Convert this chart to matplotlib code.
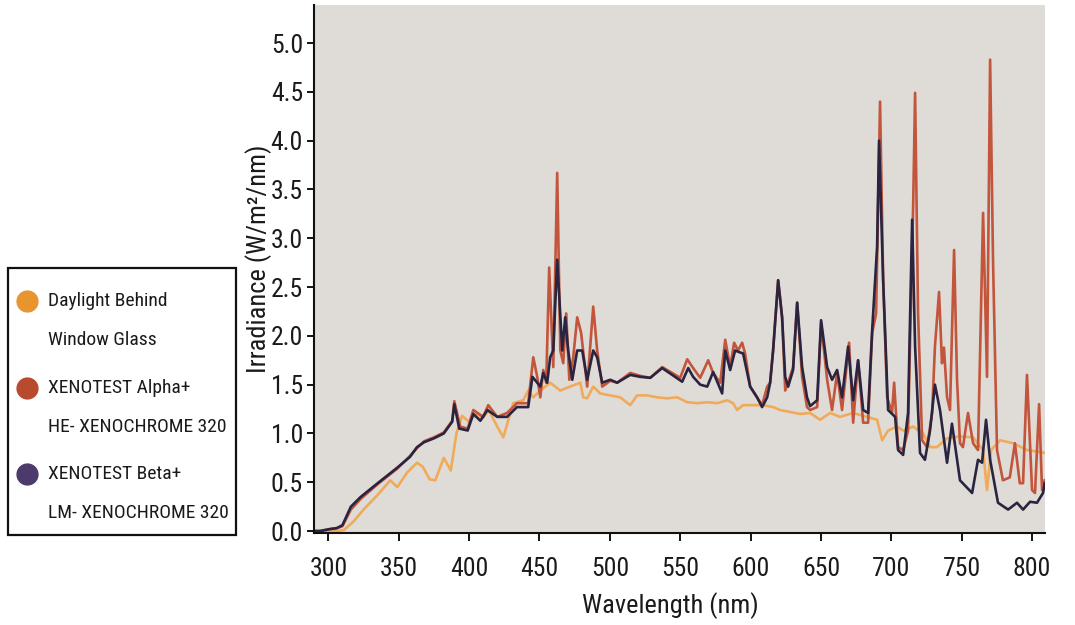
import matplotlib
matplotlib.use('Agg')
import matplotlib.pyplot as plt
import matplotlib.font_manager as fm
from matplotlib.patches import Rectangle
from matplotlib.lines import Line2D

# pick a narrow font if one is installed
avail = {f.name for f in fm.fontManager.ttflist}
stretch = 'normal'
font = 'DejaVu Sans'
for cand in ['Roboto Condensed', 'Liberation Sans Narrow', 'Open Sans Condensed']:
    if cand in avail:
        font = cand
        break
else:
    stretch = 'condensed'
plt.rcParams['font.family'] = [font, 'DejaVu Sans']
plt.rcParams['font.stretch'] = stretch

# wavelength (nm), irradiance (W/m2/nm)
daylight = [(290, 0.0), (300, 0.0), (306, 0.0), (311, 0.01), (318, 0.1), (325, 0.22), (335, 0.37),
            (344, 0.52), (349, 0.45), (356, 0.6), (363, 0.7), (367, 0.66), (372, 0.53), (376, 0.52),
            (382, 0.75), (387, 0.62), (391, 1.0), (395, 1.18), (400, 1.12), (405, 1.2), (410, 1.16),
            (414, 1.24), (420, 1.07), (424.3, 0.96), (431.4, 1.31), (438.5, 1.34), (442, 1.44),
            (445.6, 1.37), (450.6, 1.44), (457.6, 1.52), (464.8, 1.44), (471.8, 1.48), (479, 1.52),
            (481.1, 1.37), (483.9, 1.36), (488.2, 1.48), (493.2, 1.41), (500.3, 1.39), (507.4, 1.37),
            (514.5, 1.29), (519.4, 1.39), (526.5, 1.39), (533.6, 1.37), (540.7, 1.36), (547.9, 1.37),
            (555, 1.32), (562.1, 1.31), (569.2, 1.32), (576.3, 1.31), (583.4, 1.34), (587.6, 1.31),
            (590.4, 1.24), (594.7, 1.29), (601.8, 1.29), (608.9, 1.29), (616, 1.27), (620.9, 1.24),
            (628.1, 1.22), (635.2, 1.2), (642.3, 1.21), (649.4, 1.14), (656.5, 1.21), (663.6, 1.17),
            (672.9, 1.21), (682.8, 1.17), (689.9, 1.14), (693.5, 0.93), (697.7, 1.03), (704.1, 1.07),
            (708.4, 1.03), (715.5, 1.07), (722.6, 1.0), (727.5, 0.86), (732.5, 0.86), (739.6, 0.95),
            (748.8, 0.97), (758.1, 0.96), (765.2, 0.83), (768, 0.42), (770.9, 0.83), (777.3, 0.93),
            (786.5, 0.9), (796.4, 0.83), (805.7, 0.81), (809, 0.8)]

alpha = [(290, 0.0), (294, 0.0), (301, 0.02), (306, 0.03), (310, 0.05), (316, 0.22), (323, 0.33),
         (335, 0.48), (349, 0.64), (358, 0.77), (363, 0.85), (368, 0.92), (375, 0.96), (382, 1.01),
         (388, 1.13), (389.5, 1.33), (393.7, 1.07), (399, 1.05), (403, 1.24), (410, 1.17), (413.6, 1.29),
         (420, 1.17), (427, 1.21), (434, 1.31), (442, 1.31), (445.6, 1.78), (448.4, 1.58), (450.6, 1.37),
         (452.7, 1.65), (454.8, 1.52), (456.9, 2.7), (459.8, 1.68), (462.6, 3.67), (464.8, 1.85),
         (466.9, 1.72), (469, 2.23), (471.2, 1.55), (474, 1.78), (476.8, 2.19), (479.6, 2.03),
         (483.9, 1.48), (488.2, 2.3), (491, 1.85), (494.6, 1.48), (500.3, 1.54), (505.2, 1.52),
         (514.5, 1.62), (521.6, 1.59), (528.7, 1.57), (537.2, 1.68), (544.3, 1.62), (550, 1.57),
         (555, 1.76), (559.2, 1.67), (564.2, 1.57), (569.9, 1.75), (573.4, 1.62), (578.4, 1.52),
         (582, 1.96), (585.5, 1.68), (588.3, 1.93), (591.1, 1.85), (594, 1.93), (596.1, 1.82),
         (599.7, 1.48), (604.6, 1.37), (608.2, 1.29), (611.8, 1.48), (613.9, 1.52), (616, 1.85),
         (619.6, 2.57), (622.4, 2.19), (624.6, 1.44), (626.7, 1.52), (630.2, 1.68), (633.1, 2.34),
         (636.6, 1.58), (640.1, 1.27), (642.3, 1.24), (647.3, 1.27), (650.1, 2.13), (654.4, 1.55),
         (657.9, 1.24), (661.5, 1.62), (665, 1.24), (670, 1.93), (672.9, 1.11), (676.4, 1.75),
         (680, 1.11), (683.5, 1.11), (686.4, 2.03), (689.2, 2.23), (692, 4.4), (694.2, 2.57),
         (697, 1.37), (700.5, 1.21), (702, 1.52), (704.8, 0.86), (708.4, 0.83), (711.9, 1.03),
         (715.5, 3.32), (716.9, 4.49), (719, 2.23), (721.9, 0.93), (725.4, 0.86), (729, 1.21),
         (731, 1.89), (733.9, 2.45), (736, 1.72), (737.4, 1.88), (739.6, 1.37), (741.7, 1.24),
         (744.6, 2.88), (746.7, 1.55), (748.8, 0.9), (750.9, 0.86), (754.5, 1.21), (758.1, 0.9),
         (761.6, 0.83), (765.2, 3.26), (768, 1.58), (770.2, 4.83), (772.3, 2.75), (775.1, 0.83),
         (779.3, 0.52), (784.2, 0.55), (787.8, 0.9), (791.3, 0.49), (793.6, 0.49), (796.4, 1.6),
         (800, 0.42), (802.1, 0.39), (805, 1.3), (807.1, 0.42), (809, 0.52)]

beta = [(290, 0.0), (294, 0.0), (301, 0.02), (306, 0.03), (310, 0.06), (316, 0.25), (323, 0.35),
        (335, 0.49), (349, 0.65), (358, 0.76), (363, 0.86), (368, 0.91), (375, 0.95), (382, 1.0),
        (388, 1.12), (389.5, 1.3), (393, 1.05), (399, 1.03), (403, 1.2), (408, 1.13), (413, 1.24),
        (420, 1.17), (427, 1.17), (434, 1.27), (442, 1.27), (445, 1.58), (448.4, 1.52), (450.6, 1.48),
        (452.7, 1.62), (455.5, 1.52), (457.6, 1.78), (459.8, 1.85), (462.6, 2.78), (466.2, 1.85),
        (468.3, 2.19), (470.4, 1.85), (473.3, 1.55), (476.8, 1.85), (480.4, 1.85), (483.9, 1.55),
        (488.2, 1.85), (491, 1.78), (494.6, 1.52), (500.3, 1.55), (505.2, 1.52), (514.5, 1.6),
        (521.6, 1.58), (528.7, 1.57), (537.2, 1.67), (544.3, 1.6), (551.4, 1.53), (555.7, 1.67),
        (559.2, 1.58), (564.2, 1.5), (569.2, 1.48), (573.4, 1.63), (579.8, 1.41), (582, 1.85),
        (585.5, 1.65), (589, 1.85), (592.5, 1.83), (594.7, 1.82), (599.7, 1.48), (604.6, 1.37),
        (608.2, 1.27), (611.8, 1.37), (613.9, 1.52), (616, 1.85), (619.6, 2.57), (622.4, 2.19),
        (624.6, 1.58), (626.7, 1.48), (630.2, 1.65), (633.1, 2.34), (636.6, 1.68), (640.1, 1.37),
        (642.3, 1.28), (647.3, 1.34), (650.1, 2.16), (654.4, 1.68), (657.9, 1.55), (661.5, 1.65),
        (665, 1.37), (669.3, 1.89), (672.9, 1.34), (676.4, 1.75), (680, 1.24), (683.5, 1.21),
        (686.4, 2.06), (689.9, 2.91), (691.3, 4.0), (694.2, 2.57), (697.7, 1.24), (702.7, 1.17),
        (704.8, 0.83), (708.4, 0.78), (711.9, 1.21), (714.8, 3.19), (716.9, 1.89), (720.4, 0.8),
        (723.9, 0.73), (727.5, 1.03), (731, 1.5), (734.6, 1.24), (739.6, 0.7), (743.1, 1.1),
        (748.8, 0.52), (757.4, 0.39), (761.6, 0.73), (764.5, 0.7), (767.3, 1.14), (770.2, 0.73),
        (775.8, 0.29), (783, 0.22), (789.3, 0.29), (793.6, 0.22), (798.6, 0.3), (803.5, 0.29),
        (807.8, 0.39), (809, 0.49)]

xticks = [300, 350, 400, 450, 500, 550, 600, 650, 700, 750, 800]
yticks = [0.0, 0.5, 1.0, 1.5, 2.0, 2.5, 3.0, 3.5, 4.0, 4.5, 5.0]

series = [
    ('Daylight Behind', 'Window Glass', daylight, '#efaa5a', '#e8952f'),
    ('XENOTEST Alpha+', 'HE- XENOCHROME 320', alpha, '#c2553b', '#b84a2e'),
    ('XENOTEST Beta+', 'LM- XENOCHROME 320', beta, '#2a2440', '#4b3a6b'),
]

W, H = 1075, 625
fig = plt.figure(figsize=(W / 100, H / 100), dpi=100)
ax = fig.add_axes([314 / W, 1 - 533 / H, (1045 - 314) / W, (533 - 5) / H])
ax.set_facecolor('#dfdcd7')

for l1, l2, data, lc, mc in series:
    xs = [p[0] for p in data]
    ys = [p[1] for p in data]
    ax.plot(xs, ys, color=lc, lw=1.9, solid_joinstyle='round')

ax.set_xlim(289.8, 809.2)
ax.set_ylim(-0.02, 5.39)
ax.set_xticks(xticks)
ax.set_yticks(yticks)
ax.set_yticklabels(['%.1f' % v for v in yticks])

for s in ['top', 'right']:
    ax.spines[s].set_visible(False)
for s in ['left', 'bottom']:
    ax.spines[s].set_linewidth(1.5)
    ax.spines[s].set_color('#111111')

ax.tick_params(axis='x', direction='out', length=6, width=1.3, pad=11,
               labelsize=18.5, labelcolor='#1a1a1a')
ax.tick_params(axis='y', direction='out', length=5, width=1.3, pad=3,
               labelsize=18.5, labelcolor='#1a1a1a')

ax.set_xlabel('Wavelength (nm)', fontsize=19, color='#1a1a1a')
ax.xaxis.set_label_coords(0.487, -0.112)
ax.set_ylabel('Irradiance (W/m²/nm)', fontsize=19, color='#1a1a1a')
ax.yaxis.set_label_coords(-0.058, 0.52)

# legend box drawn by hand so markers sit on the first line of each label
fig.add_artist(Rectangle((8 / W, 1 - 535 / H), (236 - 8) / W, (535 - 268) / H,
                         transform=fig.transFigure, facecolor='white',
                         edgecolor='#111111', lw=1.6))
rows = [301, 388, 474]
for (l1, l2, data, lc, mc), yy in zip(series, rows):
    fig.add_artist(Line2D([27 / W], [1 - yy / H], transform=fig.transFigure,
                          marker='o', markersize=15, color=mc, lw=0))
    fig.text(48 / W, 1 - yy / H, l1, fontsize=14, va='center', ha='left', color='#1a1a1a')
    fig.text(48 / W, 1 - (yy + 39) / H, l2, fontsize=14, va='center', ha='left', color='#1a1a1a')

fig.savefig('out.png', dpi=100)
